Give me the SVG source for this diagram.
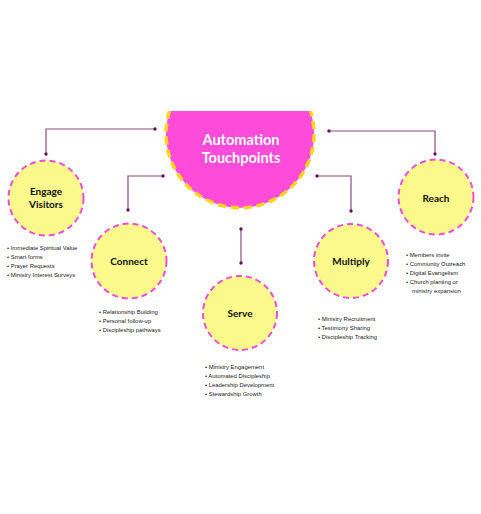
<svg xmlns="http://www.w3.org/2000/svg" width="481" height="514" viewBox="0 0 481 514">
<style>
.node{fill:#fbf88c;stroke:#e84fd2;stroke-width:2;stroke-dasharray:6 4}
.title{font-family:Lato,"Liberation Sans",sans-serif;font-weight:bold;font-size:10px;fill:#111;text-anchor:middle}
.ctitle{font-family:Lato,"Liberation Sans",sans-serif;font-weight:bold;font-size:14.5px;fill:#fff;text-anchor:middle}
.list{font-family:"Liberation Sans",Arial,sans-serif;font-size:5.9px;fill:#222}
.line{fill:none;stroke:#8a4c80;stroke-width:1.2}
.dot{fill:#6a1258}
</style>
<rect width="481" height="514" fill="#fff"/>
<g id="connectors">
<polyline class="line" points="155,129 46,129 46,154"/>
<circle class="dot" cx="155" cy="129" r="1.7"/><circle class="dot" cx="46" cy="154" r="1.7"/>
<polyline class="line" points="163,176 128,176 128,210"/>
<circle class="dot" cx="163" cy="176" r="1.7"/><circle class="dot" cx="128" cy="210" r="1.7"/>
<line class="line" x1="241" y1="229" x2="241" y2="263"/>
<circle class="dot" cx="241" cy="229" r="1.7"/><circle class="dot" cx="241" cy="263" r="1.7"/>
<polyline class="line" points="317,176 351,176 351,211"/>
<circle class="dot" cx="317" cy="176" r="1.7"/><circle class="dot" cx="351" cy="211" r="1.7"/>
<polyline class="line" points="329,131 435,131 435,154"/>
<circle class="dot" cx="329" cy="131" r="1.7"/><circle class="dot" cx="435" cy="154" r="1.7"/>
</g>
<g id="center">
<path d="M169.6,111 A74,74 0 1 0 310.4,111 Z" fill="#ff4bd9"/>
<path d="M169.6,111 A74,74 0 1 0 310.4,111" fill="none" stroke="#ffd21c" stroke-width="3.5" stroke-dasharray="8 5"/>
<text class="ctitle" x="241" y="145">Automation</text>
<text class="ctitle" x="241" y="163">Touchpoints</text>
</g>
<g id="engage">
<circle class="node" cx="46" cy="198" r="37.5"/>
<text class="title" x="46" y="195">Engage</text>
<text class="title" x="46" y="208">Visitors</text>
<text class="list" x="7" y="250">•  Immediate Spiritual Value</text>
<text class="list" x="7" y="259">•  Smart forms</text>
<text class="list" x="7" y="268">•  Prayer Requests</text>
<text class="list" x="7" y="277">•  Ministry Interest Surveys</text>
</g>
<g id="connect">
<circle class="node" cx="129" cy="261" r="37.5"/>
<text class="title" x="129" y="265">Connect</text>
<text class="list" x="99" y="314">•  Relationship Building</text>
<text class="list" x="99" y="323">•  Personal follow-up</text>
<text class="list" x="99" y="332">•  Discipleship pathways</text>
</g>
<g id="serve">
<circle class="node" cx="240" cy="313" r="37"/>
<text class="title" x="240" y="317">Serve</text>
<text class="list" x="205" y="369">•  Ministry Engagement</text>
<text class="list" x="205" y="378">•  Automated Discipleship</text>
<text class="list" x="205" y="387">•  Leadership Development</text>
<text class="list" x="205" y="396">•  Stewardship Growth</text>
</g>
<g id="multiply">
<circle class="node" cx="351" cy="261" r="37"/>
<text class="title" x="351" y="265">Multiply</text>
<text class="list" x="318" y="321">•  Ministry Recruitment</text>
<text class="list" x="318" y="330">•  Testimony Sharing</text>
<text class="list" x="318" y="339">•  Discipleship Tracking</text>
</g>
<g id="reach">
<circle class="node" cx="436" cy="197" r="37.5"/>
<text class="title" x="436" y="202">Reach</text>
<text class="list" x="406" y="257">•  Members invite</text>
<text class="list" x="406" y="266">•  Community Outreach</text>
<text class="list" x="406" y="275">•  Digital Evangelism</text>
<text class="list" x="406" y="284">•  Church planting or</text>
<text class="list" x="412" y="293">ministry expansion</text>
</g>
</svg>
